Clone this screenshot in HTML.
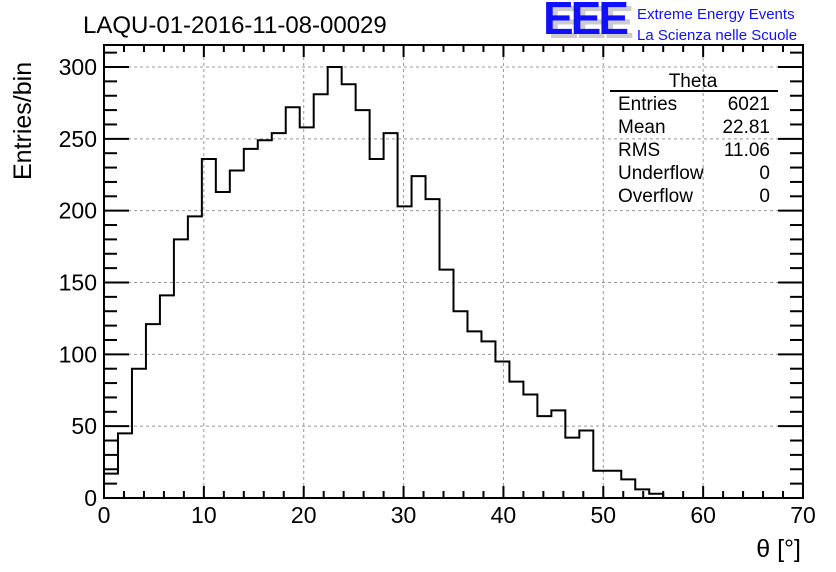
<!DOCTYPE html>
<html><head><meta charset="utf-8"><style>
html,body{margin:0;padding:0;background:#fff;}
svg{display:block;font-family:"Liberation Sans",Arial,sans-serif;}
</style></head><body>
<svg id="chart" width="836" height="572" viewBox="0 0 836 572">
<rect width="836" height="572" fill="#fff"/>
<g id="grid"></g>
<g id="hist"></g>
<g id="axes"></g>
<text x="83" y="33" font-size="24">LAQU-01-2016-11-08-00029</text>
<g>
<text x="548" y="38" font-size="46" font-weight="bold" fill="#ccc" letter-spacing="-3">EEE</text>
<text x="543" y="34" font-size="46" font-weight="bold" fill="#1010ff" letter-spacing="-3">EEE</text>
<text x="637" y="19" font-size="15" fill="#1010ff">Extreme Energy Events</text>
<text x="637" y="40" font-size="15" fill="#1010ff">La Scienza nelle Scuole</text>
</g>
<g font-size="19">
<text x="693" y="87" text-anchor="middle">Theta</text>
<line x1="610" y1="91" x2="778" y2="91" stroke="#000" stroke-width="2"/>
<text x="618" y="110">Entries</text><text x="770" y="110" text-anchor="end">6021</text>
<text x="618" y="133">Mean</text><text x="770" y="133" text-anchor="end">22.81</text>
<text x="618" y="156">RMS</text><text x="770" y="156" text-anchor="end">11.06</text>
<text x="618" y="179">Underflow</text><text x="770" y="179" text-anchor="end">0</text>
<text x="618" y="202">Overflow</text><text x="770" y="202" text-anchor="end">0</text>
</g>
<text transform="translate(31,180) rotate(-90)" font-size="25">Entries/bin</text>
<text x="801" y="557" text-anchor="end" font-size="25">θ [°]</text>
</svg>
<script>
const binCounts = [17,45,90,121,141,180,196,236,213,228,243,249,254,272,258,281,300,288,270,236,254,203,224,208,159,130,116,109,95,81,72,57,61,42,47,19,19,13,6,3,0,0,0,0,0,0,0,0,0,0];
const xTicks = [0,10,20,30,40,50,60,70];
const yTicks = [0,50,100,150,200,250,300];
const xMin=0,xMax=70,yMin=0,yMax=300;
const L=104,R=803,T=45,B=498,Y300=67;
const sx=v=>L+(v-xMin)/(xMax-xMin)*(R-L);
const sy=v=>B-(v-yMin)/(yMax-yMin)*(B-Y300);
const NS="http://www.w3.org/2000/svg";
function mk(tag,attrs,parent){const e=document.createElementNS(NS,tag);for(const k in attrs)e.setAttribute(k,attrs[k]);parent.appendChild(e);return e;}
const grid=document.getElementById('grid'),hist=document.getElementById('hist'),axes=document.getElementById('axes');
xTicks.forEach(v=>{if(v===xMin||v===xMax)return;const l=mk('line',{x1:sx(v),x2:sx(v),y1:T,y2:B,stroke:'#999','stroke-dasharray':'3,3'},grid);

});
yTicks.forEach(v=>{if(v===yMin)return;const l=mk('line',{x1:L,x2:R,y1:sy(v),y2:sy(v),stroke:'#999','stroke-dasharray':'3,3'},grid);

});
const bw=(xMax-xMin)/binCounts.length;
let d='M'+sx(0)+','+sy(0);
binCounts.forEach((c,i)=>{d+=' L'+sx(i*bw)+','+sy(c)+' L'+sx((i+1)*bw)+','+sy(c);});
d+=' L'+sx(xMax)+','+sy(0);
const p=mk('path',{d:d,fill:'none',stroke:'#000','stroke-width':2},hist);


const fr=mk('rect',{x:L,y:T,width:R-L,height:B-T,fill:'none',stroke:'#000','stroke-width':2},axes);


for(let v=xMin;v<=xMax;v+=2){const maj=v%10===0,len=maj?12:7;
mk('line',{x1:sx(v),x2:sx(v),y1:B,y2:B-len,stroke:'#000','stroke-width':2},axes);
mk('line',{x1:sx(v),x2:sx(v),y1:T,y2:T+len,stroke:'#000','stroke-width':2},axes);}
for(let v=yMin;v<=yMax+10&&sy(v)>=T;v+=10){const maj=v%50===0,len=maj?25:13;
mk('line',{x1:L,x2:L+len,y1:sy(v),y2:sy(v),stroke:'#000','stroke-width':2},axes);
mk('line',{x1:R,x2:R-len,y1:sy(v),y2:sy(v),stroke:'#000','stroke-width':2},axes);}
xTicks.forEach(v=>{const t=mk('text',{x:sx(v),y:523,'text-anchor':'middle','font-size':23},axes);t.textContent=v;

});
yTicks.forEach(v=>{const t=mk('text',{x:97,y:sy(v)+8,'text-anchor':'end','font-size':23},axes);t.textContent=v;

});
</script>
</body></html>
